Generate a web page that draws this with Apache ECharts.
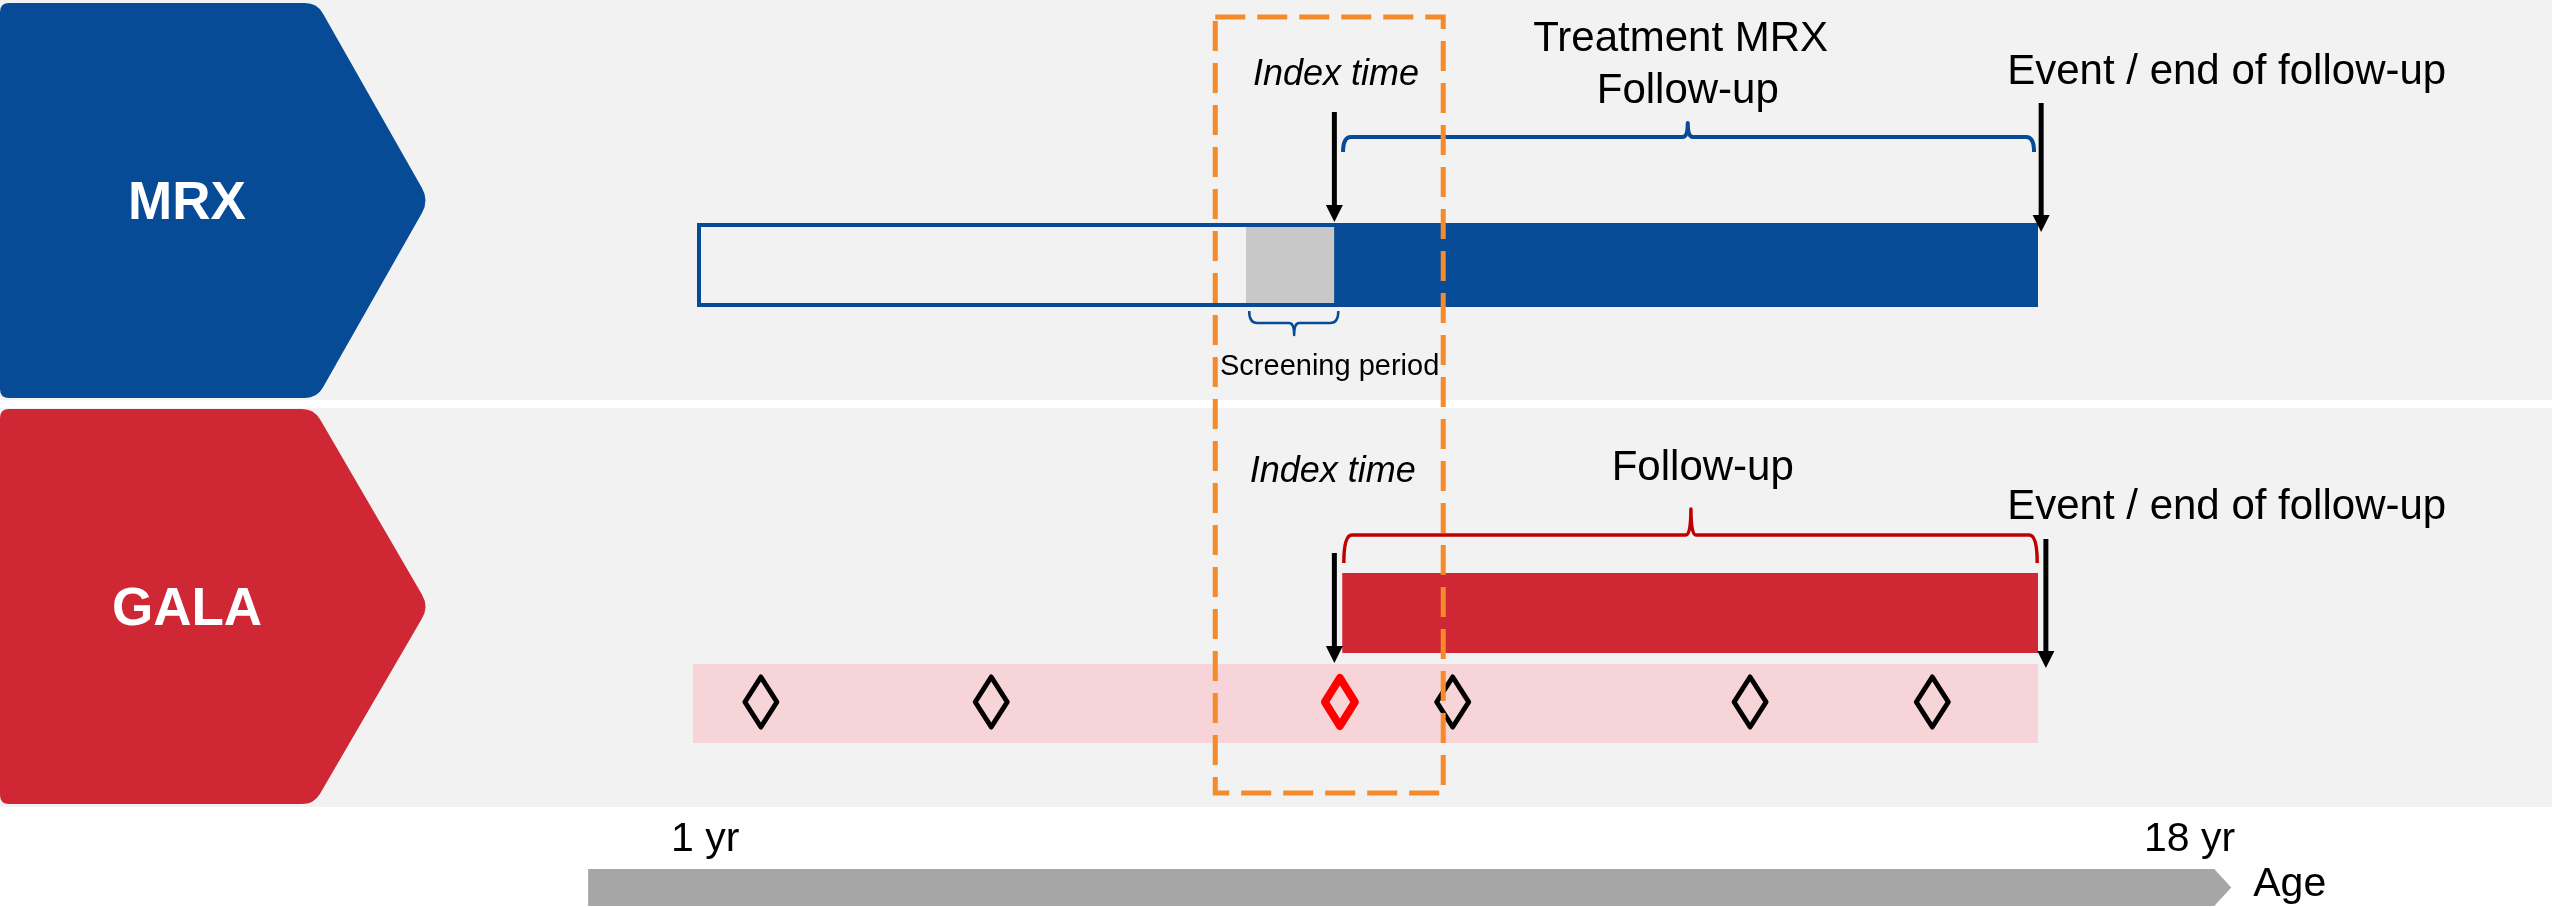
<!DOCTYPE html>
<html><head><meta charset="utf-8">
<script src="https://cdn.jsdelivr.net/npm/echarts@6/dist/echarts.min.js"></script>
<style>html,body{margin:0;padding:0;background:#fff}#c{width:2552px;height:907px}</style>
</head><body><div id="c"></div>
<script>
// ---------------- data (ages in years) ----------------
const cohorts = ['MRX', 'GALA'];
const ageTickLabels = ['1 yr', '18 yr'];
const ageTickValues = [1, 18];
const ageAxisName = 'Age';
const ageAxisExtent = [-0.38, 20.45];

const mrxLookback = [1, 9.08];
const mrxScreening = [7.96, 9.08];
const mrxTreatment = [9.08, 18];
const mrxIndexAge = 9.08;
const mrxEventAge = 18.04;
const mrxFollowBrace = [9.19, 13.56, 17.95];
const mrxScreenBrace = [8.0, 8.57, 9.13];

const galaRecord = [0.95, 18];
const galaFollowUp = [9.18, 18];
const galaIndexAge = 9.08;
const galaEventAge = 18.1;
const galaFollowBrace = [9.2, 13.6, 17.99];
const galaVisitAges = [1.81, 4.73, 9.15, 10.58, 14.35, 16.66];
const galaVisitIsIndex = [0, 0, 1, 0, 0, 0];

const indexWindow = [7.57, 10.46];

const mrxTexts = ['Index time', 'Treatment MRX', 'Follow-up', 'Event / end of follow-up', 'Screening period'];
const mrxTextAges = [9.10, 13.47, 13.56, 17.61, 9.02];
const galaTexts = ['Index time', 'Follow-up', 'Event / end of follow-up'];
const galaTextAges = [9.06, 13.75, 17.61];

// ---------------- layout & style (pixels) ----------------
const FONT = '"Liberation Sans", Arial, Helvetica, sans-serif';
const C = {
  bg: '#F2F2F2', blue: '#074B96', red: '#CF2734', pink: '#F7D4D8', gray: '#C8C8C8',
  orange: '#F58A2B', braceRed: '#C00000', axis: '#A6A6A6', black: '#000000', visitRed: '#FF0000'
};
const L = {
  panels: [[0, 400], [408, 807]],
  chevrons: [
    {top: 3, bottom: 398, rectRight: 317, tip: 429, textY: 202},
    {top: 409, bottom: 804, rectRight: 314, tip: 429, textY: 608}
  ],
  mrxBar: [223, 307], screenBox: [227, 303],
  galaBand: [664, 743], galaBar: [573, 653],
  visitY: 702, visitHalf: [16, 25], visitHalfIdx: [15, 24],
  arrows: { mrxIndex: [112, 222], mrxEvent: [103, 232], galaIndex: [553, 663], galaEvent: [539, 668] },
  braces: {
    mrxFollow: {end: 152, line: 137, peak: 123, w: 4},
    mrxScreen: {end: 311, line: 323, peak: 335, w: 2.5},
    galaFollow: {end: 563, line: 535, peak: 509, w: 3.5}
  },
  window: [17, 793],
  mrxTextBase: [87, 53, 105, 86, 376], mrxTextSize: [36, 42, 42, 42, 29],
  galaTextBase: [484, 482, 521], galaTextSize: [36, 42, 42],
  axisBar: [869, 906], axisHead: 17,
  tickBase: 853, tickOffset: [-26, 106], axisNameBase: 898
};

function roundPoly(pts, r) {
  let d = '';
  const n = pts.length;
  for (let i = 0; i < n; i++) {
    const P = pts[i], A = pts[(i - 1 + n) % n], B = pts[(i + 1) % n];
    const rr = Array.isArray(r) ? r[i] : r;
    const da = Math.hypot(A[0] - P[0], A[1] - P[1]), db = Math.hypot(B[0] - P[0], B[1] - P[1]);
    const p1 = [P[0] + (A[0] - P[0]) * rr / da, P[1] + (A[1] - P[1]) * rr / da];
    const p2 = [P[0] + (B[0] - P[0]) * rr / db, P[1] + (B[1] - P[1]) * rr / db];
    d += (i === 0 ? 'M' : 'L') + p1[0] + ' ' + p1[1] + ' Q' + P[0] + ' ' + P[1] + ' ' + p2[0] + ' ' + p2[1] + ' ';
  }
  return d + 'Z';
}
function bracePath(x1, xp, x2, b) {
  const r = Math.min(8, Math.abs(b.line - b.end));
  const r2 = 5;
  return 'M' + x1 + ' ' + b.end +
    ' Q' + x1 + ' ' + b.line + ' ' + (x1 + r) + ' ' + b.line +
    ' L' + (xp - r2) + ' ' + b.line +
    ' Q' + xp + ' ' + b.line + ' ' + xp + ' ' + b.peak +
    ' Q' + xp + ' ' + b.line + ' ' + (xp + r2) + ' ' + b.line +
    ' L' + (x2 - r) + ' ' + b.line +
    ' Q' + x2 + ' ' + b.line + ' ' + x2 + ' ' + b.end;
}
function txt(text, x, base, size, opts) {
  opts = opts || {};
  return {
    type: 'text',
    style: {
      text: text, x: x, y: base - 0.32 * size, fill: opts.fill || C.black,
      fontSize: size, fontFamily: FONT, fontStyle: opts.italic ? 'italic' : 'normal',
      fontWeight: opts.bold ? 'bold' : 'normal', align: opts.align || 'center', verticalAlign: 'middle'
    }
  };
}
function arrowEls(x, y0, y1) {
  const h = 17, w = 8.5;
  return [
    {type: 'line', shape: {x1: x, y1: y0, x2: x, y2: y1 - h + 2}, style: {stroke: C.black, lineWidth: 5}},
    {type: 'polygon', shape: {points: [[x - w, y1 - h], [x + w, y1 - h], [x, y1]]}, style: {fill: C.black}}
  ];
}
function cs(name, data, z, build) {
  return {
    type: 'custom', name: name, data: data, z: z, silent: true, animation: false, clip: false,
    coordinateSystem: 'cartesian2d',
    renderItem: function (params, api) {
      const X = a => api.coord([a, 0])[0];
      return build(params.dataIndex, X, api);
    }
  };
}

const series = [];
// panel backgrounds
series.push(cs('panels', cohorts.map((c, i) => [i, 0]), 1, (i, X, api) => ({
  type: 'rect', shape: {x: 0, y: L.panels[i][0], width: api.getWidth(), height: L.panels[i][1] - L.panels[i][0]},
  style: {fill: C.bg}
})));
// chevrons with cohort names
series.push(cs('cohorts', cohorts.map((c, i) => [i, 0]), 2, (i, X, api) => {
  const ch = L.chevrons[i];
  const mid = (ch.top + ch.bottom) / 2;
  const pts = [[0, ch.top], [ch.rectRight, ch.top], [ch.tip, mid], [ch.rectRight, ch.bottom], [0, ch.bottom]];
  return {type: 'group', children: [
    {type: 'path', shape: {pathData: roundPoly(pts, [9, 12, 14, 12, 9])}, style: {fill: i === 0 ? C.blue : C.red}},
    txt(cohorts[i], 187, ch.textY + 0.358 * 53, 53, {fill: '#FFFFFF', bold: true})
  ]};
}));
// MRX bars
const mrxBars = [mrxLookback, mrxScreening, mrxTreatment];
series.push(cs('mrxBars', mrxBars.map((b, i) => [b[0], i]), 3, (i, X) => {
  const b = mrxBars[i];
  if (i === 0) {
    return {type: 'rect', shape: {x: X(b[0]) + 2, y: L.mrxBar[0] + 2, width: X(b[1]) - X(b[0]) - 2, height: L.mrxBar[1] - L.mrxBar[0] - 4},
      style: {fill: 'none', stroke: C.blue, lineWidth: 4}};
  }
  if (i === 1) {
    return {type: 'rect', shape: {x: X(b[0]), y: L.screenBox[0], width: X(b[1]) - X(b[0]), height: L.screenBox[1] - L.screenBox[0]},
      style: {fill: C.gray}};
  }
  return {type: 'rect', shape: {x: X(b[0]), y: L.mrxBar[0], width: X(b[1]) - X(b[0]), height: L.mrxBar[1] - L.mrxBar[0]},
    style: {fill: C.blue}};
}));
// GALA band and follow-up bar
const galaBars = [galaRecord, galaFollowUp];
series.push(cs('galaBars', galaBars.map((b, i) => [b[0], i]), 3, (i, X) => {
  const b = galaBars[i];
  const yy = i === 0 ? L.galaBand : L.galaBar;
  return {type: 'rect', shape: {x: X(b[0]), y: yy[0], width: X(b[1]) - X(b[0]), height: yy[1] - yy[0]},
    style: {fill: i === 0 ? C.pink : C.red}};
}));
// GALA visits (diamonds)
series.push(cs('visits', galaVisitAges.map((a, i) => [a, i]), 4, (i, X) => {
  const idx = galaVisitIsIndex[i] === 1;
  const h = idx ? L.visitHalfIdx : L.visitHalf;
  const x = X(galaVisitAges[i]), y = L.visitY;
  return {type: 'polygon', shape: {points: [[x, y - h[1]], [x + h[0], y], [x, y + h[1]], [x - h[0], y]]},
    style: {fill: 'none', stroke: idx ? C.visitRed : C.black, lineWidth: idx ? 8 : 5, lineJoin: 'round'}};
}));
// braces
const braces = [[mrxFollowBrace, L.braces.mrxFollow, C.blue], [mrxScreenBrace, L.braces.mrxScreen, C.blue], [galaFollowBrace, L.braces.galaFollow, C.braceRed]];
series.push(cs('braces', braces.map((b, i) => [b[0][0], i]), 5, (i, X) => {
  const b = braces[i];
  return {type: 'path', shape: {pathData: bracePath(X(b[0][0]), X(b[0][1]), X(b[0][2]), b[1])},
    style: {fill: 'none', stroke: b[2], lineWidth: b[1].w, lineJoin: 'round'}};
}));
// arrows
const arrows = [[mrxIndexAge, L.arrows.mrxIndex], [mrxEventAge, L.arrows.mrxEvent], [galaIndexAge, L.arrows.galaIndex], [galaEventAge, L.arrows.galaEvent]];
series.push(cs('arrows', arrows.map((a, i) => [a[0], i]), 6, (i, X) => ({
  type: 'group', children: arrowEls(X(arrows[i][0]), arrows[i][1][0], arrows[i][1][1])
})));
// index time window
series.push(cs('window', [[indexWindow[0], 0]], 7, (i, X) => ({
  type: 'rect', shape: {x: X(indexWindow[0]), y: L.window[0], width: X(indexWindow[1]) - X(indexWindow[0]), height: L.window[1] - L.window[0]},
  style: {fill: 'none', stroke: C.orange, lineWidth: 5, lineDash: [30, 12]}
})));
// annotation texts
series.push(cs('mrxTexts', mrxTexts.map((t, i) => [mrxTextAges[i], i]), 8, (i, X) => {
  const leftAligned = i === 3;
  return txt(mrxTexts[i], X(mrxTextAges[i]), L.mrxTextBase[i], L.mrxTextSize[i], {italic: i === 0, align: leftAligned ? 'left' : 'center'});
}));
series.push(cs('galaTexts', galaTexts.map((t, i) => [galaTextAges[i], i]), 8, (i, X) => {
  const leftAligned = i === 2;
  return txt(galaTexts[i], X(galaTextAges[i]), L.galaTextBase[i], L.galaTextSize[i], {italic: i === 0, align: leftAligned ? 'left' : 'center'});
}));
// age axis arrow
series.push(cs('ageAxis', [[ageAxisExtent[0], 0]], 2, (i, X) => {
  const x0 = X(ageAxisExtent[0]), x1 = X(ageAxisExtent[1]);
  const y0 = L.axisBar[0], y1 = L.axisBar[1], ym = (y0 + y1) / 2;
  const children = [
    {type: 'polygon', shape: {points: [[x0, y0], [x1 - L.axisHead, y0], [x1, ym], [x1 - L.axisHead, y1], [x0, y1]]}, style: {fill: C.axis}}
  ];
  ageTickLabels.forEach((t, k) => children.push(txt(t, X(ageTickValues[k]) + L.tickOffset[k], L.tickBase, 41, {align: 'left'})));
  children.push(txt(ageAxisName, X(ageAxisExtent[1]) + 22, L.axisNameBase, 41, {align: 'left'}));
  return {type: 'group', children: children};
}));

const chart = echarts.init(document.getElementById('c'), null, {renderer: 'canvas'});
chart.setOption({
  backgroundColor: '#FFFFFF',
  animation: false,
  grid: {left: 697, right: 514, top: 0, bottom: 0},
  xAxis: {type: 'value', min: 1, max: 18, show: false},
  yAxis: {type: 'value', min: 0, max: 907, inverse: true, show: false},
  series: series
});
</script></body></html>
